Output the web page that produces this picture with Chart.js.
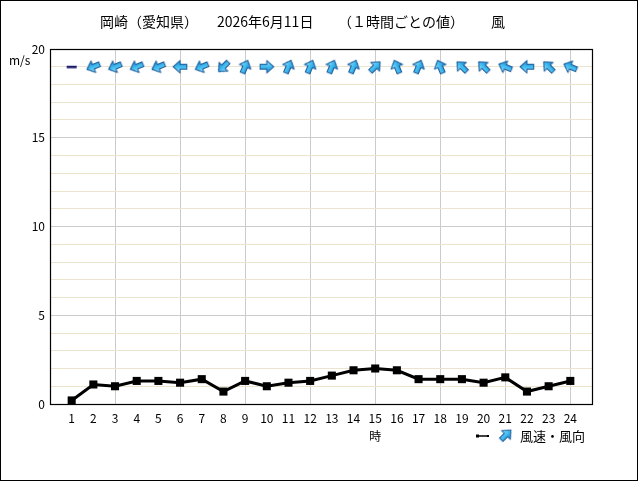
<!DOCTYPE html>
<html><head><meta charset="utf-8">
<script src="https://cdn.jsdelivr.net/npm/chart.js@4.4.1/dist/chart.umd.min.js"></script>
<style>html,body{margin:0;padding:0;background:#fff;}#wrap{width:640px;height:482px;}</style>
</head><body><div id="wrap"><canvas id="c" width="640" height="482"></canvas></div>
<script>
const titleParts = ['岡崎（愛知県）', '2026年6月11日', '（１時間ごとの値）', '風'];
const yUnit = 'm/s';
const xAxisTitle = '時';
const legendText = '風速・風向';
const hours = [1,2,3,4,5,6,7,8,9,10,11,12,13,14,15,16,17,18,19,20,21,22,23,24];
const windSpeed = [0.2,1.1,1.0,1.3,1.3,1.2,1.4,0.7,1.3,1.0,1.2,1.3,1.6,1.9,2.0,1.9,1.4,1.4,1.4,1.2,1.5,0.7,1.0,1.3];
const windDirection = ['静穏','東北東','東北東','東北東','東北東','東','東北東','北東','南南西','西','南南西','南南西',
  '南南西','南南西','南西','南南東','南南西','南南東','南東','南東','東南東','東','南東','東南東'];
const yTickLabels = [0,5,10,15,20];
const arrowRow = 19;

const compass = ['北','北北東','北東','東北東','東','東南東','南東','南南東','南','南南西','南西','西南西','西','西北西','北西','北北西'];
const FONT = "'Noto Sans CJK JP','Noto Sans',sans-serif";

function makeArrow(){
  const c=document.createElement('canvas'); c.width=16; c.height=16;
  const g=c.getContext('2d');
  g.beginPath();
  g.moveTo(8,1.2); g.lineTo(14.2,8); g.lineTo(10.4,8); g.lineTo(10.4,14.8); g.lineTo(5.6,14.8); g.lineTo(5.6,8); g.lineTo(1.8,8); g.closePath();
  const grad=g.createLinearGradient(2,0,14,0);
  grad.addColorStop(0,'#a8e6fc'); grad.addColorStop(0.45,'#45c0f2'); grad.addColorStop(1,'#1c8ad0');
  g.fillStyle=grad; g.fill();
  g.lineWidth=1.1; g.strokeStyle='#1a5a9a'; g.lineJoin='round'; g.stroke();
  return c;
}
function makeDash(){
  const c=document.createElement('canvas'); c.width=16; c.height=16;
  const g=c.getContext('2d');
  g.fillStyle='#1c1c6c'; g.fillRect(3,7,10,2.5);
  return c;
}
const arrowImg=makeArrow(), dashImg=makeDash();
const styleOf = d => d==='静穏' ? dashImg : arrowImg;
const rotOf = d => d==='静穏' ? 0 : (compass.indexOf(d)*22.5+180)%360;

const decor = {
  id:'decor',
  beforeDatasetsDraw(chart){
    const {ctx, chartArea:a}=chart;
    ctx.save(); ctx.strokeStyle='#000'; ctx.lineWidth=1.2;
    ctx.strokeRect(Math.round(a.left)+0.5, Math.round(a.top)+0.5, Math.round(a.right-a.left), Math.round(a.bottom-a.top));
    ctx.restore();
  },
  afterDraw(chart){
    const {ctx}=chart; const xs=chart.scales.x;
    ctx.save();
    ctx.strokeStyle='#000'; ctx.lineWidth=1;
    ctx.strokeRect(0.5,0.5,637,480);
    ctx.fillStyle='#000'; ctx.textBaseline='middle'; ctx.textAlign='left';
    ctx.font='14px '+FONT;
    const tx=[100,217,338,491];
    titleParts.forEach((t,i)=>ctx.fillText(t,tx[i],22));
    ctx.font='12px '+FONT;
    ctx.fillText(yUnit,9,60);
    ctx.textAlign='center';
    ctx.fillText(xAxisTitle, xs.getPixelForValue(15), 436);
    // legend
    ctx.strokeStyle='#000'; ctx.lineWidth=1.5;
    ctx.beginPath(); ctx.moveTo(478,436); ctx.lineTo(488,436); ctx.stroke();
    ctx.fillRect(476,434.5,3,3); ctx.fillRect(487,435,2,2);
    ctx.translate(506,435); ctx.rotate(Math.PI/4); ctx.drawImage(arrowImg,-8,-8); ctx.setTransform(1,0,0,1,0,0);
    ctx.textAlign='left'; ctx.font='13px '+FONT;
    ctx.fillText(legendText,520,436);
    ctx.restore();
  }
};

new Chart(document.getElementById('c'),{
  type:'line',
  data:{datasets:[
    {label:'風速', data:hours.map((h,i)=>({x:h,y:windSpeed[i]})), borderColor:'#000', borderWidth:3,
     pointStyle:'rect', pointRadius:5.7, pointBackgroundColor:'#000', pointBorderColor:'#000', pointBorderWidth:0, tension:0},
    {label:'風向', data:hours.map(h=>({x:h,y:arrowRow})), showLine:false,
     pointStyle:ctx=>styleOf(windDirection[ctx.dataIndex]), rotation:ctx=>rotOf(windDirection[ctx.dataIndex]), clip:false}
  ]},
  options:{
    responsive:false, animation:false, events:[],
    layout:{padding:{top:49,bottom:0,left:0,right:48}},
    plugins:{legend:{display:false},title:{display:false},tooltip:{enabled:false}},
    scales:{
      x:{type:'linear',min:0,max:25,
        afterFit:s=>{s.height=78;},
        ticks:{stepSize:1,autoSkip:false,maxRotation:0,padding:7,color:'#000',font:{size:12,family:FONT},
          callback:v=>(v>=1&&v<=24)?String(v):''},
        grid:{drawTicks:false,color:c=>(c.tick&&c.tick.value%3===0&&c.tick.value>0&&c.tick.value<25)?'#cbcbcb':'rgba(0,0,0,0)'},
        border:{display:false}},
      y:{min:0,max:20,
        afterFit:s=>{s.width=50;},
        ticks:{stepSize:1,autoSkip:false,padding:5,color:'#000',font:{size:12,family:FONT},
          callback:v=>yTickLabels.includes(v)?String(v):''},
        grid:{drawTicks:false,color:c=>(c.tick&&c.tick.value%5===0)?'#cbcbcb':'#ece4cf'},
        border:{display:false}}
    }
  },
  plugins:[decor]
});
</script></body></html>
